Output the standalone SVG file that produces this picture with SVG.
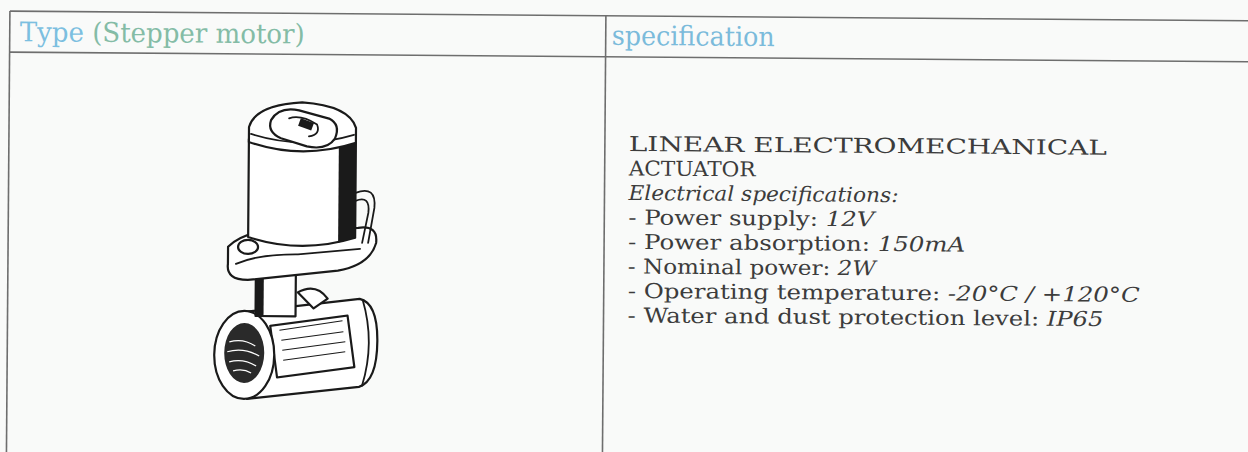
<svg xmlns="http://www.w3.org/2000/svg" width="1248" height="452" viewBox="0 0 1248 452">
<style>
.grid{stroke:#6e6e6e;stroke-width:1.6;fill:none}
.hdr{font-family:"DejaVu Serif","Liberation Serif",serif;font-size:27px}
.body{font-family:"DejaVu Serif","Liberation Serif",serif;font-size:20.5px;fill:#3c3c3c}
.it{font-style:italic}
.ink{stroke:#1a1a1a;stroke-width:2.2;fill:#ffffff;stroke-linejoin:round;stroke-linecap:round}
.inkn{stroke:#1a1a1a;stroke-width:1.8;fill:none;stroke-linecap:round}
.dark{fill:#1a1a1a;stroke:none}
</style>
<rect x="0" y="0" width="1248" height="452" fill="#f9faf9"/>
<g transform="rotate(0.45)">
<g id="table">
<line class="grid" x1="10" y1="11" x2="1260" y2="11"/>
<line class="grid" x1="10" y1="52" x2="1260" y2="52"/>
<line class="grid" x1="10" y1="11" x2="10" y2="470"/>
<line class="grid" x1="606" y1="11" x2="606" y2="470"/>
</g>
<g id="header-type">
<text class="hdr" x="20" y="41" textLength="285" lengthAdjust="spacingAndGlyphs"><tspan fill="#7cbfe0">Type</tspan><tspan fill="#84bca6"> (Stepper motor)</tspan></text>
</g>
<g id="header-spec">
<text class="hdr" x="612" y="40" fill="#7bbbdb" textLength="163" lengthAdjust="spacingAndGlyphs">specification</text>
</g>
<g id="actuator-image">
<path class="ink" d="M247 310 L362 296 Q380 300 380 338 Q380 378 362 384 L250 397 Z"/>
<path class="inkn" d="M365 297 Q378 340 365 383"/>
<rect class="ink" x="276" y="318" width="78" height="52" transform="rotate(-8 315 344)"/>
<g stroke="#1a1a1a" stroke-width="1" fill="none">
<line x1="282" y1="328" x2="345" y2="318"/>
<line x1="284" y1="338" x2="346" y2="329"/>
<line x1="285" y1="348" x2="348" y2="339"/>
<line x1="286" y1="358" x2="348" y2="349"/>
</g>
<ellipse class="ink" cx="247" cy="353" rx="30" ry="44"/>
<ellipse cx="247" cy="351" rx="20" ry="30" fill="#2a2a2a"/>
<g stroke="#ffffff" stroke-width="1.2" fill="none">
<path d="M232 340 Q246 336 258 344"/>
<path d="M230 350 Q246 345 262 354"/>
<path d="M232 360 Q246 356 259 364"/>
<path d="M236 369 Q246 366 254 371"/>
</g>
<rect class="ink" x="258" y="268" width="40" height="46"/>
<rect class="dark" x="258" y="268" width="8" height="46"/>
<path class="ink" d="M300 290 Q318 280 330 296 L316 306 Z"/>
<path class="ink" d="M230 245 Q250 225 300 228 L360 225 Q380 222 378 240 Q372 262 340 268 L250 278 Q228 278 230 262 Z"/>
<path class="inkn" d="M238 262 Q260 252 300 252 L362 246"/>
<ellipse class="ink" cx="250" cy="245" rx="10" ry="7"/>
<path class="inkn" d="M357 190 Q378 182 376 205 L370 240"/>
<path class="inkn" d="M357 198 Q372 192 370 210 L364 240"/>
<path class="ink" d="M250 137 L250 235 Q303 252 357 235 L357 137 Z"/>
<path class="dark" d="M340 140 L357 137 L357 235 L340 240 Z"/>
<path class="ink" d="M250 140 L250 125 Q256 103 303 100 Q350 103 357 125 L357 140 Q303 158 250 140 Z"/>
<path class="inkn" d="M252 132 Q303 148 355 132"/>
<path class="ink" d="M272 118 Q280 104 300 108 L330 116 Q342 122 336 136 Q328 148 308 144 L282 136 Q268 130 272 118 Z"/>
<path class="inkn" d="M290 116 Q302 112 318 122 Q322 132 310 134"/>
<rect class="dark" x="300" y="118" width="14" height="8" transform="rotate(20 307 122)"/>
</g>
<g id="spec-text">
<text class="body" x="630" y="146" textLength="478" lengthAdjust="spacingAndGlyphs">LINEAR ELECTROMECHANICAL</text>
<text class="body" x="630" y="170.5" textLength="127" lengthAdjust="spacingAndGlyphs">ACTUATOR</text>
<text class="body it" x="630" y="195" textLength="270" lengthAdjust="spacingAndGlyphs">Electrical specifications:</text>
<text class="body" x="630" y="219.5" textLength="246" lengthAdjust="spacingAndGlyphs">- Power supply: <tspan class="it">12V</tspan></text>
<text class="body" x="630" y="244" textLength="337" lengthAdjust="spacingAndGlyphs">- Power absorption: <tspan class="it">150mA</tspan></text>
<text class="body" x="630" y="268.5" textLength="248" lengthAdjust="spacingAndGlyphs">- Nominal power: <tspan class="it">2W</tspan></text>
<text class="body" x="630" y="293" textLength="512" lengthAdjust="spacingAndGlyphs">- Operating temperature: <tspan class="it">-20°C / +120°C</tspan></text>
<text class="body" x="630" y="317.5" textLength="476" lengthAdjust="spacingAndGlyphs">- Water and dust protection level: <tspan class="it">IP65</tspan></text>
</g>
</g>
</svg>
